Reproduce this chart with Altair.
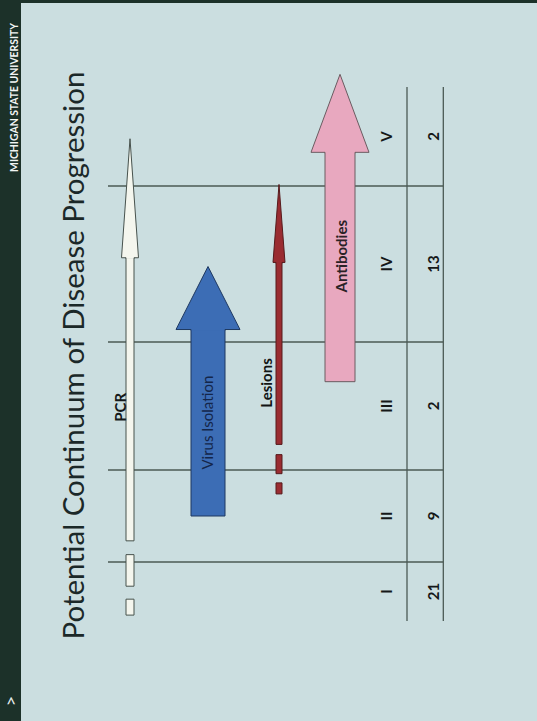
import altair as alt
import pandas as pd

# ---------------- data (stage units: stage k spans k-0.5 .. k+0.5) ----------------
stages = ["I", "II", "III", "IV", "V"]
stage_index = [1, 2, 3, 4, 5]
stage_counts = ["21", "9", "2", "13", "2"]
stage_boundaries = [1.5, 2.5, 3.5, 4.5]
stage_extent = [0.5, 5.5]

tests = ["PCR", "Virus Isolation", "Lesions", "Antibodies"]
test_lane = [0, 1, 2, 3]
detect_from = [1.73, 2.00, 2.70, 3.19]   # start of the solid part
detect_to = [4.04, 3.58, 4.01, 4.84]     # base of the arrow head
label_at = [2.99, 2.87, 3.18, 4.05]
uncertain_from = {"PCR": [0.60, 1.09], "Lesions": [2.24, 2.46]}
uncertain_to = {"PCR": [0.87, 1.58], "Lesions": [2.36, 2.62]}

table_dividers = [4.5, 5.5]
numeral_column = 4
count_column = 5
grid_extent = [-0.5, 5.5]

TITLE = "Potential Continuum of Disease Progression"
BRAND = "MICHIGAN STATE UNIVERSITY"

# ---------------- styles / layout ----------------
BG = "#cbdee0"
DARK = "#1c3129"
GRID = "#4b5a55"
FONT = "Lato"
STYLE = {
    "PCR": dict(fill="#f4f6ee", stroke="#47524d", shaft=8, head_w=17, head_h=119,
                text="#161a1a", dy=-9, weight="bold"),
    "Virus Isolation": dict(fill="#3c6db5", stroke="#1f3961", shaft=34, head_w=64, head_h=63,
                            text="#14264a", dy=0, weight="normal"),
    "Lesions": dict(fill="#9a2c31", stroke="#561a1c", shaft=6, head_w=12, head_h=78,
                    text="#111414", dy=-12, weight="bold"),
    "Antibodies": dict(fill="#e8a8bf", stroke="#6a5c61", shaft=30, head_w=58, head_h=78,
                       text="#2a2226", dy=2, weight="bold"),
}

XS = alt.Scale(domain=[-0.5, 0, 1, 2, 3, 4, 4.5, 5, 5.5],
               range=[83, 109, 187, 258, 319, 366, 386, 413, 424], nice=False, zero=False)
YS = alt.Scale(domain=[0.5, 1.5, 2.5, 3.5, 4.5, 5.5],
               range=[618, 559, 467, 339, 183, 84], nice=False, zero=False)

AY = alt.Axis(title=TITLE, labels=False, ticks=False, domain=False, grid=False,
              titleAngle=270, titleX=62, titleY=352, titleAlign="center",
              titleBaseline="alphabetic", titleFont=FONT, titleFontSize=29.5,
              titleFontWeight="normal", titleColor="#1b2828")


def X(field):
    return alt.X(field, type="quantitative", scale=XS, axis=None)


def Y(field):
    return alt.Y(field, type="quantitative", scale=YS, axis=AY)


def head_path(shaft, hw, hh):
    s = shaft / 2
    a = hw / 2
    return f"M{-s},1L{-s},0L{-a},0L0,{-hh}L{a},0L{s},0L{s},1"


layers = []

# grid lines between stages
grid_df = pd.DataFrame({"b": stage_boundaries, "x0": grid_extent[0], "x1": grid_extent[1]})
layers.append(alt.Chart(grid_df).mark_rule(color=GRID, strokeWidth=1.3).encode(
    y=Y("b"), x=X("x0"), x2="x1"))

# table dividers
div_df = pd.DataFrame({"c": table_dividers, "y0": stage_extent[0], "y1": stage_extent[1]})
layers.append(alt.Chart(div_df).mark_rule(color=GRID, strokeWidth=1.3).encode(
    x=X("c"), y=Y("y0"), y2="y1"))

# arrows
for i, t in enumerate(tests):
    st = STYLE[t]
    bar_kw = dict(size=st["shaft"], fill=st["fill"], stroke=st["stroke"], strokeWidth=1,
                  opacity=1, cornerRadius=0)
    shaft_df = pd.DataFrame({"lane": [test_lane[i]], "a": [detect_from[i]], "b": [detect_to[i]]})
    layers.append(alt.Chart(shaft_df).mark_bar(**bar_kw).encode(x=X("lane"), y=Y("a"), y2="b"))
    if t in uncertain_from:
        d_df = pd.DataFrame({"lane": test_lane[i], "a": uncertain_from[t], "b": uncertain_to[t]})
        layers.append(alt.Chart(d_df).mark_bar(**bar_kw).encode(x=X("lane"), y=Y("a"), y2="b"))
    layers.append(alt.Chart(shaft_df).mark_point(
        shape=head_path(st["shaft"], st["head_w"], st["head_h"]), size=4, filled=True,
        fill=st["fill"], stroke=st["stroke"], strokeWidth=1, opacity=1).encode(
        x=X("lane"), y=Y("b")))
    lab_df = pd.DataFrame({"lane": [test_lane[i]], "p": [label_at[i]], "t": [t]})
    layers.append(alt.Chart(lab_df).mark_text(
        angle=270, align="center", baseline="middle", dy=st["dy"], font=FONT, fontSize=15,
        fontWeight=st["weight"], color=st["text"]).encode(x=X("lane"), y=Y("p"), text="t:N"))

# stage numerals and counts
tab_df = pd.DataFrame({"s": stages, "k": stage_index, "n": stage_counts,
                       "c1": numeral_column, "c2": count_column})
layers.append(alt.Chart(tab_df).mark_text(
    angle=270, align="center", baseline="middle", font=FONT, fontSize=15, fontWeight="bold",
    color="#151818").encode(x=X("c1"), y=Y("k"), text="s:N"))
layers.append(alt.Chart(tab_df).mark_text(
    angle=270, align="center", baseline="middle", font=FONT, fontSize=15, fontWeight="bold",
    color="#151818").encode(x=X("c2"), y=Y("k"), text="n:N"))

# slide chevron (decoration in the dark side band)
layers.append(alt.Chart(pd.DataFrame({"g": [">"]})).mark_text(
    angle=270, align="center", baseline="middle", font=FONT, fontSize=18, color="#e8eeee").encode(
    x=alt.value(-9), y=alt.value(698), text="g:N"))

chart = alt.layer(*layers).properties(
    width=516, height=718,
    padding={"left": 21, "top": 3, "right": 0, "bottom": 0},
    autosize=alt.AutoSizeParams(type="none"),
    background=DARK,
    title=alt.TitleParams(BRAND, orient="left", anchor="end", font=FONT, fontSize=10.4,
                          fontWeight="bold", color="#f2f5f4", offset=-17, dx=-20),
).configure_view(fill=BG, stroke=None)

chart.save("out.html", embed_options={"renderer": "svg", "actions": False})
